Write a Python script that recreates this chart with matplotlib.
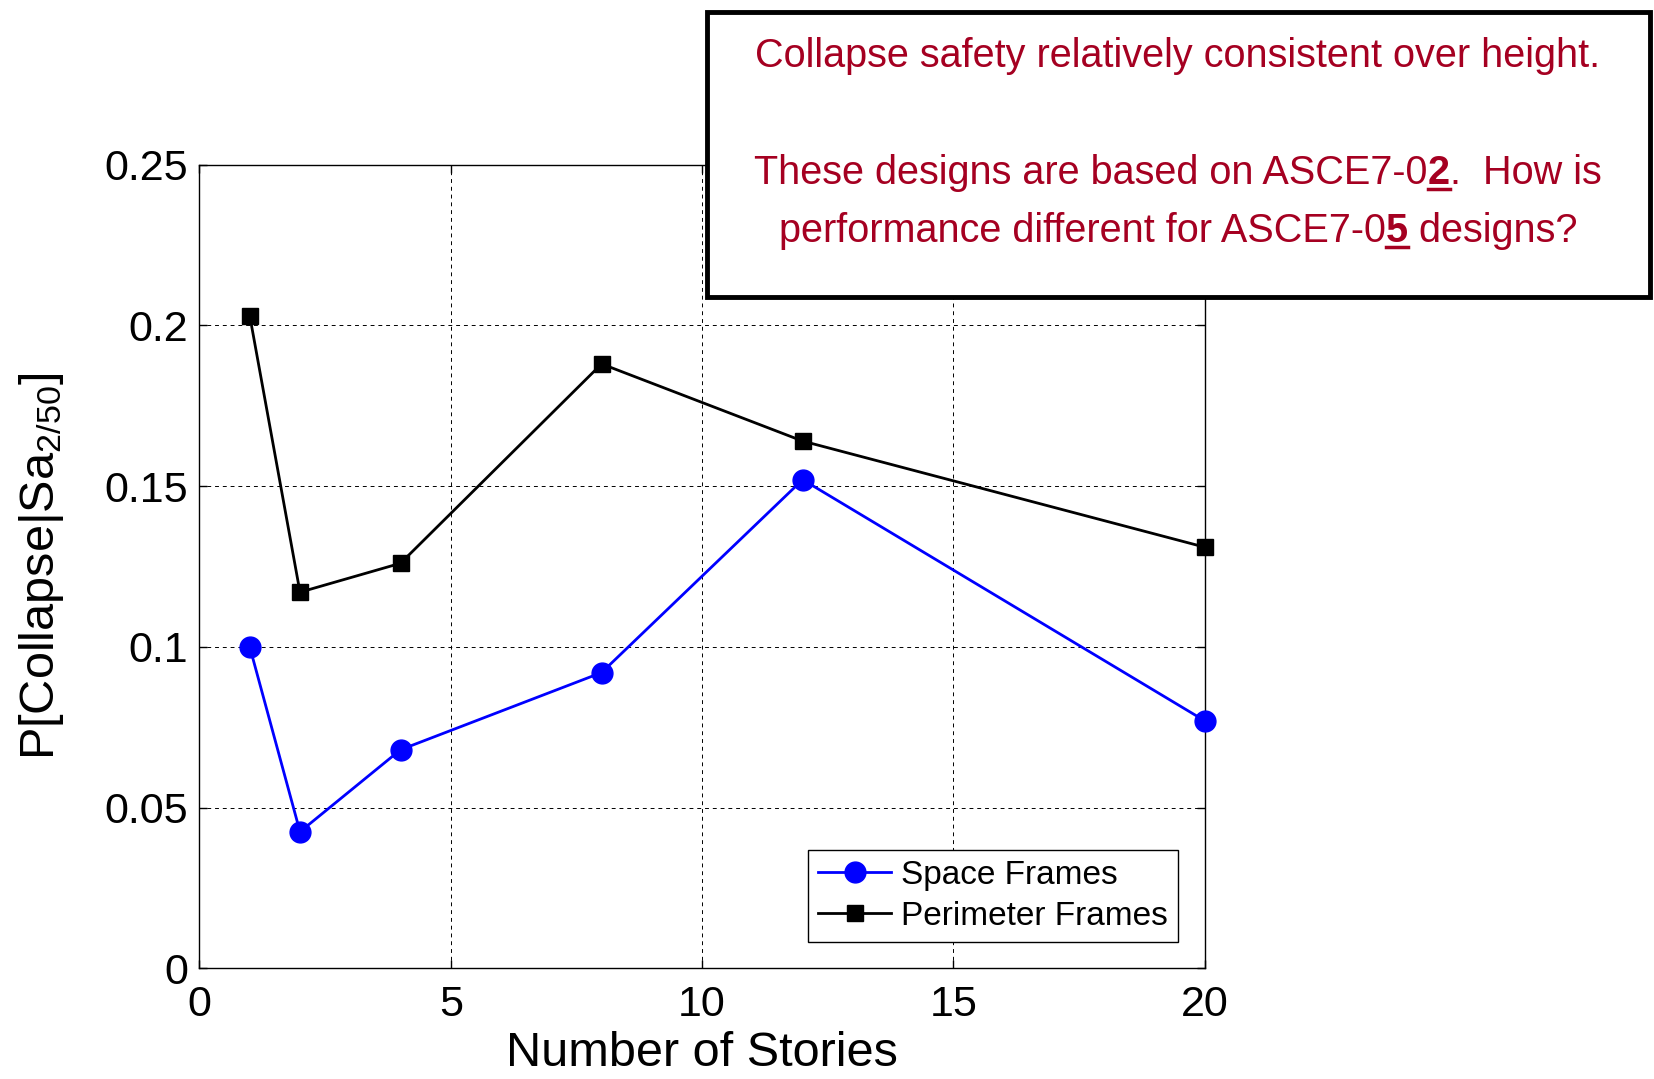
import matplotlib
matplotlib.use('Agg')
import matplotlib.pyplot as plt
from matplotlib.lines import Line2D
from matplotlib import font_manager

stories = [1, 2, 4, 8, 12, 20]
space_frames = [0.100, 0.0425, 0.068, 0.092, 0.152, 0.077]
perimeter_frames = [0.203, 0.117, 0.126, 0.188, 0.164, 0.131]

plt.rcParams['font.family'] = ['Liberation Sans', 'DejaVu Sans']
plt.rcParams['mathtext.fontset'] = 'custom'
plt.rcParams['mathtext.rm'] = 'Liberation Sans'
plt.rcParams['mathtext.it'] = 'Liberation Sans'

fig = plt.figure(figsize=(16.54, 10.79), dpi=100)
ax = fig.add_axes([0.1206, 0.1025, 0.6078, 0.745])

ax.plot(stories, space_frames, 'b-o', lw=2, ms=15, label='Space Frames', clip_on=False, zorder=3)
ax.plot(stories, perimeter_frames, 'k-s', lw=2, ms=12, label='Perimeter Frames', clip_on=False, zorder=3)

ax.set_xlim(0, 20)
ax.set_ylim(0, 0.25)
ax.set_xticks([0, 5, 10, 15, 20])
ax.set_yticks([0, 0.05, 0.1, 0.15, 0.2, 0.25])
ax.set_yticklabels(['0', '0.05', '0.1', '0.15', '0.2', '0.25'])
ax.tick_params(direction='in', labelsize=31, length=6, width=1, pad=8,
               top=True, right=True)
ax.tick_params(axis='x', pad=12)
ax.grid(True, color='black', linestyle=(0, (4, 4)), linewidth=0.7)
for s in ax.spines.values():
    s.set_linewidth(1.0)

ax.set_xlabel('Number of Stories', fontsize=35, labelpad=4)
ax.set_ylabel(r'P[Collapse|Sa$_{2/50}$]', fontsize=35, labelpad=28)

leg = ax.legend(loc='lower right', fontsize=24, frameon=True, fancybox=False,
                edgecolor='black', framealpha=1, borderpad=0.3,
                handlelength=2.2, handletextpad=0.3, labelspacing=0.3,
                borderaxespad=0.8)
leg.get_frame().set_linewidth(1.0)

# annotation box
box = plt.Rectangle((707 / 1654, 1 - 297 / 1079), (1650 - 707) / 1654, (297 - 12) / 1079,
                    transform=fig.transFigure, facecolor='white', edgecolor='black',
                    linewidth=3.5, zorder=5)
fig.add_artist(box)

red = '#A50021'
names = {f.name for f in font_manager.fontManager.ttflist}
if 'Liberation Sans Narrow' in names:
    box_family = ['Liberation Sans Narrow', 'DejaVu Sans']
else:
    box_family = ['Liberation Sans', 'DejaVu Sans']

fig.canvas.draw()
renderer = fig.canvas.get_renderer()

# size the box text so the first line spans the same width as in the original
probe = fig.text(0, 0, 'Collapse safety relatively consistent over height.',
                 family=box_family, fontsize=30)
w = probe.get_window_extent(renderer).width
probe.remove()
box_size = 30 * 845 / w

tfont = dict(family=box_family, fontsize=box_size, color=red, zorder=6)
cx = 1178 / 1654
fig.text(cx, 1 - 56 / 1079, 'Collapse safety relatively consistent over height.',
         ha='center', va='center', **tfont)

line2 = [('These designs are based on ASCE7-0', False), ('2', True), ('.  How is', False)]
line3 = [('performance different for ASCE7-0', False), ('5', True), (' designs?', False)]


def draw_line(parts, ybase):
    texts = []
    for s, bold in parts:
        t = fig.text(0, ybase, s, ha='left', va='baseline',
                     fontweight='bold' if bold else 'normal', **tfont)
        texts.append((t, bold))
    widths = [t.get_window_extent(renderer).width for t, _ in texts]
    x = cx * 1654 - sum(widths) / 2
    for (t, bold), w in zip(texts, widths):
        t.set_x(x / 1654)
        if bold:
            yb = ybase * 1079 - 5
            fig.add_artist(Line2D([x / 1654, (x + w) / 1654], [yb / 1079, yb / 1079],
                                  transform=fig.transFigure, color=red, lw=2.5, zorder=6))
        x += w


draw_line(line2, 1 - 184 / 1079)
draw_line(line3, 1 - 242 / 1079)

fig.savefig('out.png', dpi=100)
